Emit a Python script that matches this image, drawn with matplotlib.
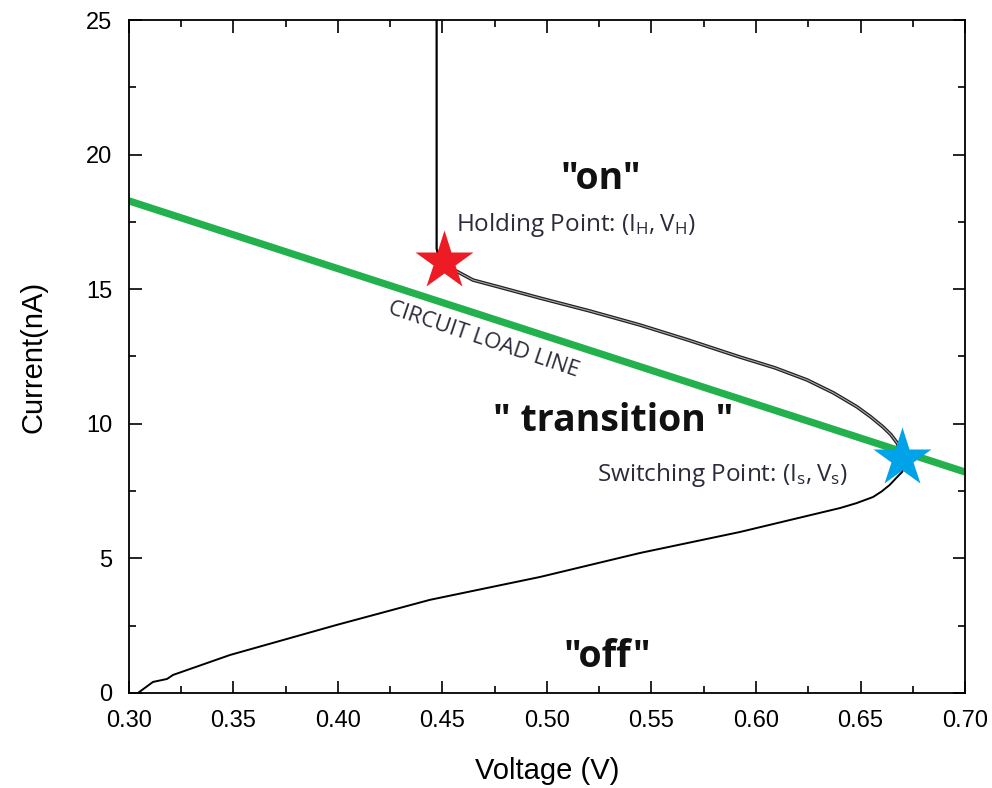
import numpy as np
import matplotlib
matplotlib.use('Agg')
import matplotlib.pyplot as plt
from matplotlib.ticker import MultipleLocator

plt.rcParams['mathtext.fontset'] = 'custom'
plt.rcParams['mathtext.rm'] = 'Open Sans'

# I-V curve, lower branch ("off" -> switching point)
v_lower = [0.3043, 0.3115, 0.3182, 0.3211, 0.3483, 0.3995, 0.444, 0.4967,
           0.5445, 0.5923, 0.6402, 0.648, 0.656, 0.660, 0.664, 0.667, 0.6699, 0.6713]
i_lower = [0.0, 0.41, 0.52, 0.67, 1.41, 2.53, 3.46, 4.31,
           5.20, 5.98, 6.87, 7.05, 7.28, 7.48, 7.73, 7.98, 8.21, 8.47]

# upper branch (switching point -> holding point)
v_upper = [0.6713, 0.6700, 0.6675, 0.6645, 0.6608, 0.655, 0.6483, 0.637, 0.6244,
           0.609, 0.5923, 0.568, 0.5445, 0.520, 0.4967, 0.480, 0.4646, 0.4574,
           0.452, 0.4485]
i_upper = [8.47, 8.85, 9.29, 9.60, 9.88, 10.25, 10.63, 11.15, 11.63,
           12.08, 12.48, 13.10, 13.67, 14.20, 14.67, 15.02, 15.34, 15.64,
           15.85, 16.1]

# "on" state, vertical part
v_on = [0.4485, 0.4472, 0.4472]
i_on = [16.1, 16.5, 25.0]

# circuit load line end points
v_load = [0.30, 0.70]
i_load = [18.28, 8.21]

# holding and switching points
v_hold, i_hold = 0.4505, 16.05
v_switch, i_switch = 0.670, 8.73

fig = plt.figure(figsize=(9.92, 7.88), dpi=100)
ax = fig.add_axes([0.130, 0.1206, 0.8428, 0.854])

ax.plot(v_load, i_load, color='#22b14c', lw=5.2, solid_capstyle='butt', zorder=2)
ax.plot(v_lower, i_lower, color='black', lw=1.4, zorder=3)
ax.plot(v_upper, i_upper, color='#222222', lw=2.6, zorder=3)
ax.plot(v_upper, i_upper, color='#aaaaaa', lw=0.8, zorder=3)
ax.plot(v_on, i_on, color='black', lw=1.6, zorder=3)

ax.plot(v_hold, i_hold, marker='*', ms=44, color='#ed1c24', mec='none', zorder=4)
ax.plot(v_switch, i_switch, marker='*', ms=44, color='#00a2e8', mec='none', zorder=4)

ax.set_xlim(0.30, 0.70)
ax.set_ylim(0, 25)
ax.xaxis.set_major_locator(MultipleLocator(0.05))
ax.xaxis.set_minor_locator(MultipleLocator(0.025))
ax.yaxis.set_major_locator(MultipleLocator(5))
ax.yaxis.set_minor_locator(MultipleLocator(2.5))
ax.set_xticks(np.arange(0.30, 0.701, 0.05))
ax.set_xticklabels(['%.2f' % t for t in np.arange(0.30, 0.701, 0.05)])
ax.tick_params(which='both', direction='in', top=True, right=True, width=1.2)
ax.tick_params(which='major', length=9, labelsize=17, pad=12)
ax.tick_params(which='minor', length=5)
for lab in ax.get_xticklabels() + ax.get_yticklabels():
    lab.set_family('Liberation Sans')
for s in ax.spines.values():
    s.set_linewidth(1.3)

ax.set_xlabel('Voltage (V)', fontsize=21, family='Liberation Sans', labelpad=18)
ax.set_ylabel('Current(nA)', fontsize=21, family='Liberation Sans', labelpad=28)

big = dict(fontsize=27, fontweight='bold', family='Open Sans', color='#111111',
           ha='center', va='center')
ax.text(0.526, 19.1, '"on"', **big)
ax.text(0.5315, 10.1, '" transition "', **big)
ax.text(0.529, 1.35, '"off"', **big)

small = dict(fontsize=17.5, family='Open Sans', color='#2b2b3b', va='center')
ax.text(0.4565, 17.4, r'Holding Point: ($\mathregular{I_H, V_H}$)', **small)
ax.text(0.524, 8.1, r'Switching Point: ($\mathregular{I_s, V_s}$)', **small)
ax.text(0.4694, 13.11, 'CIRCUIT LOAD LINE', fontsize=16, family='Open Sans',
        color='#2b2b3b', ha='center', va='center', rotation=-18.6)

fig.savefig('out.png', dpi=100)
